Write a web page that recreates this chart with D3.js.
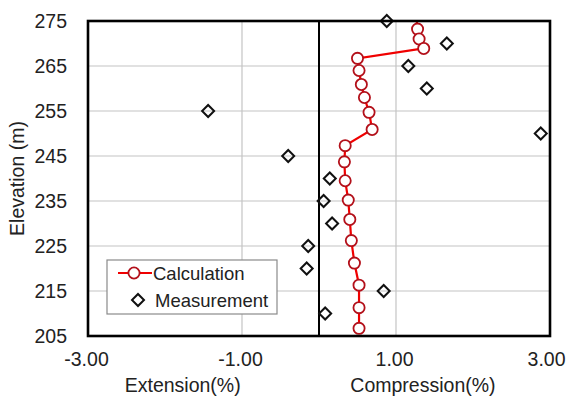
<!DOCTYPE html>
<html>
<head>
<meta charset="utf-8">
<script src="https://cdn.jsdelivr.net/npm/d3@7"></script>
<style>
  html, body { margin: 0; padding: 0; background: #fff; }
  svg { display: block; font-family: "Liberation Sans", Arial, sans-serif; }
</style>
</head>
<body>
<div id="chart"></div>
<script>
// Calculation profile (strain %, elevation m)
const calcStrain = [1.26, 1.28, 1.30, 1.36, 0.50, 0.52, 0.55, 0.59, 0.65, 0.69, 0.34, 0.33, 0.34, 0.38, 0.40, 0.42, 0.46, 0.52, 0.52, 0.52]
const calcElev = [276.5, 273.2, 271.0, 268.9, 266.7, 264.0, 260.9, 258.0, 254.7, 250.9, 247.3, 243.7, 239.5, 235.2, 230.9, 226.2, 221.2, 216.3, 211.3, 206.7]

// Measurement points
const measStrain = [0.88, 1.66, 1.16, 1.40, -1.44, 2.88, -0.40, 0.14, 0.06, 0.17, -0.14, -0.16, 0.84, 0.08]
const measElev = [275, 270, 265, 260, 255, 250, 245, 240, 235, 230, 225, 220, 215, 210]

const xTicks = [-3, -1, 1, 3]
const yTicks = [205, 215, 225, 235, 245, 255, 265, 275]
const xTitles = ['Extension(%)', 'Compression(%)']
const xTitlePos = [-1.77, 1.35]   // strain value under which each title is centred
const legendLabels = ['Calculation', 'Measurement']

const W = 567, H = 396
const margin = { top: 21, right: 17, bottom: 60, left: 88 }
const iw = W - margin.left - margin.right
const ih = H - margin.top - margin.bottom
const fontAxis = 19.5
const fontLegend = 18.5

const svg = d3.select('#chart').append('svg')
  .attr('width', W)
  .attr('height', H)

const x = d3.scaleLinear().domain([-3, 3]).range([0, iw])
const y = d3.scaleLinear().domain([205, 275]).range([ih, 0])

const g = svg.append('g').attr('transform', `translate(${margin.left},${margin.top})`)

svg.append('defs').append('clipPath').attr('id', 'plot-clip')
  .append('rect').attr('width', iw).attr('height', ih)

// Gridlines
g.append('g')
  .selectAll('line')
  .data(yTicks.slice(1, -1))
  .join('line')
  .attr('x1', 0).attr('x2', iw)
  .attr('y1', d => y(d)).attr('y2', d => y(d))
  .attr('stroke', '#c4c4c4').attr('stroke-width', 1.2)

g.append('g')
  .selectAll('line')
  .data(xTicks.slice(1, -1))
  .join('line')
  .attr('x1', d => x(d)).attr('x2', d => x(d))
  .attr('y1', 0).attr('y2', ih)
  .attr('stroke', '#c4c4c4').attr('stroke-width', 1.2)

// Zero line
g.append('line')
  .attr('x1', x(0)).attr('x2', x(0))
  .attr('y1', 0).attr('y2', ih)
  .attr('stroke', '#000').attr('stroke-width', 2)

// Axes (labels only, lines drawn by the frame)
const yAxis = g.append('g')
  .call(d3.axisLeft(y).tickValues(yTicks).tickSize(0).tickPadding(21))
yAxis.select('.domain').remove()
yAxis.selectAll('text').attr('font-size', fontAxis).attr('fill', '#222')
  .attr('font-family', '"Liberation Sans", Arial, sans-serif')

const xAxis = g.append('g').attr('transform', `translate(0,${ih})`)
  .call(d3.axisBottom(x).tickValues(xTicks).tickSize(0).tickPadding(16).tickFormat(d => d.toFixed(2)))
xAxis.select('.domain').remove()
xAxis.selectAll('text').attr('font-size', fontAxis).attr('fill', '#222')
  .attr('font-family', '"Liberation Sans", Arial, sans-serif')
  .attr('dx', d => d === 3 ? -4 : -2)

// Axis titles
g.append('text')
  .attr('transform', `translate(${17 - margin.left},${ih / 2}) rotate(-90)`)
  .attr('text-anchor', 'middle').attr('dominant-baseline', 'central')
  .attr('font-size', fontAxis).attr('fill', '#222')
  .text('Elevation (m)')

g.selectAll('.xtitle')
  .data(xTitles)
  .join('text')
  .attr('class', 'xtitle')
  .attr('x', (d, i) => x(xTitlePos[i]))
  .attr('y', 385 - margin.top)
  .attr('text-anchor', 'middle').attr('dominant-baseline', 'central')
  .attr('font-size', fontAxis).attr('fill', '#222')
  .text(d => d)

// Data layer
const plot = g.append('g').attr('clip-path', 'url(#plot-clip)')

const calc = calcStrain.map((v, i) => ({ v, e: calcElev[i] }))
const meas = measStrain.map((v, i) => ({ v, e: measElev[i] }))

plot.append('path')
  .datum(calc)
  .attr('fill', 'none')
  .attr('stroke', '#f00000')
  .attr('stroke-width', 2.2)
  .attr('d', d3.line().x(d => x(d.v)).y(d => y(d.e)))

plot.selectAll('.calc')
  .data(calc)
  .join('circle')
  .attr('class', 'calc')
  .attr('cx', d => x(d.v)).attr('cy', d => y(d.e))
  .attr('r', 5.6)
  .attr('fill', '#fff')
  .attr('stroke', '#b3101a')
  .attr('stroke-width', 1.8)

// Measurements drawn unclipped so edge points show fully
const diamond = d3.symbol().type(d3.symbolSquare).size(72)
g.selectAll('.meas')
  .data(meas)
  .join('path')
  .attr('class', 'meas')
  .attr('d', diamond)
  .attr('transform', d => `translate(${x(d.v)},${y(d.e)}) rotate(45)`)
  .attr('fill', 'none')
  .attr('stroke', '#111')
  .attr('stroke-width', 2)

// Frame
g.append('rect')
  .attr('width', iw).attr('height', ih)
  .attr('fill', 'none')
  .attr('stroke', '#000').attr('stroke-width', 2.6)

// Legend
const lg = g.append('g').attr('transform', `translate(${107 - margin.left},${260 - margin.top})`)
lg.append('rect')
  .attr('width', 170).attr('height', 54)
  .attr('fill', '#fff')
  .attr('stroke', '#8a8a8a').attr('stroke-width', 1.2)

lg.append('line')
  .attr('x1', 11).attr('x2', 45).attr('y1', 13).attr('y2', 13)
  .attr('stroke', '#f00000').attr('stroke-width', 2.2)
lg.append('circle')
  .attr('cx', 27).attr('cy', 13).attr('r', 5.6)
  .attr('fill', '#fff').attr('stroke', '#b3101a').attr('stroke-width', 1.8)
lg.append('path')
  .attr('d', diamond)
  .attr('transform', 'translate(31,40) rotate(45)')
  .attr('fill', 'none').attr('stroke', '#111').attr('stroke-width', 2)

lg.selectAll('.ltxt')
  .data(legendLabels)
  .join('text')
  .attr('class', 'ltxt')
  .attr('x', (d, i) => i === 0 ? 46 : 48)
  .attr('y', (d, i) => i === 0 ? 13 : 40)
  .attr('dominant-baseline', 'central')
  .attr('font-size', fontLegend).attr('fill', '#222')
  .text(d => d)
</script>
</body>
</html>
